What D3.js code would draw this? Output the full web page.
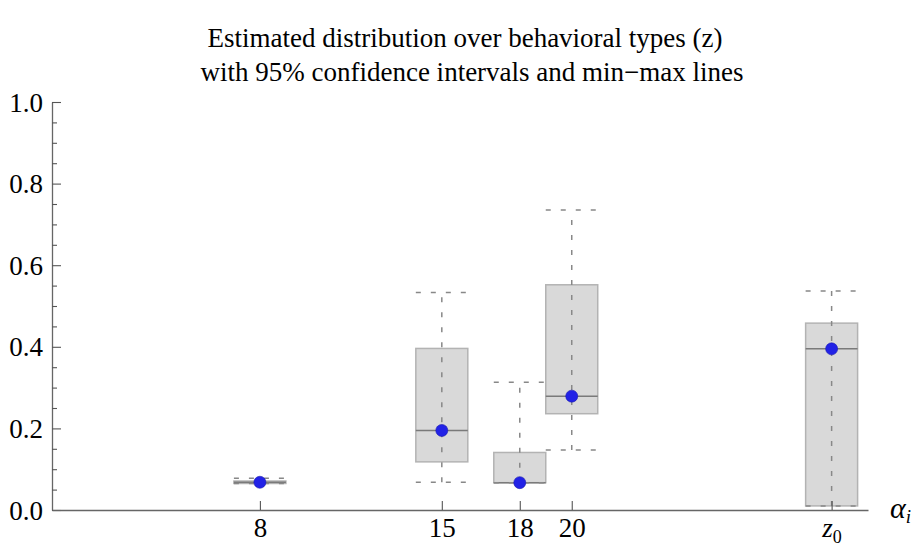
<!DOCTYPE html>
<html>
<head>
<meta charset="utf-8">
<script src="https://cdn.jsdelivr.net/npm/d3@7"></script>
<style>
  html, body { margin: 0; padding: 0; background: #fff; }
  svg { display: block; }
</style>
</head>
<body>
<svg id="chart" width="916" height="548"></svg>
<script>
// ---- data ----
const categories = ["8", "15", "18", "20", "z0"];
const positions  = [8, 15, 18, 20, 30];
const minVals    = [0.065, 0.068, 0.067, 0.147, 0.010];
const lowerCI    = [0.065, 0.118, 0.067, 0.236, 0.010];
const medians    = [0.068, 0.195, 0.067, 0.279, 0.395];
const upperCI    = [0.071, 0.396, 0.141, 0.552, 0.458];
const maxVals    = [0.078, 0.533, 0.313, 0.735, 0.537];
const estimates  = [0.068, 0.195, 0.067, 0.279, 0.395];
const yTickValues = [0, 0.2, 0.4, 0.6, 0.8, 1.0];
const titleLines = ["Estimated distribution over behavioral types (z)",
                    "with 95% confidence intervals and min\u2212max lines"];

const FONT = "Liberation Serif";
const FS = 27;
const svg = d3.select("#chart");
const x = d3.scaleLinear().domain([0, 31.4]).range([52, 868]);
const y = d3.scaleLinear().domain([0, 1]).range([510, 102]);
const halfW = 1; // box half width in x units

const data = categories.map((c, i) => ({
  c, p: positions[i], min: minVals[i], lo: lowerCI[i], med: medians[i],
  hi: upperCI[i], max: maxVals[i], est: estimates[i]
}));

// titles
svg.append("text").attr("x", 465).attr("y", 47).attr("text-anchor", "middle")
  .attr("font-family", FONT).attr("font-size", FS).attr("fill", "#000").text(titleLines[0]);
svg.append("text").attr("x", 472).attr("y", 81).attr("text-anchor", "middle")
  .attr("font-family", FONT).attr("font-size", FS).attr("fill", "#000").text(titleLines[1]);

// boxes
const g = svg.append("g");
g.selectAll("rect.box").data(data).enter().append("rect")
  .attr("class", "box")
  .attr("x", d => x(d.p - halfW))
  .attr("width", d => x(d.p + halfW) - x(d.p - halfW))
  .attr("y", d => y(d.hi))
  .attr("height", d => Math.max(y(d.lo) - y(d.hi), 1))
  .attr("fill", "#d9d9d9").attr("stroke", "#b3b3b3").attr("stroke-width", 1.5);

// medians
g.selectAll("line.med").data(data).enter().append("line")
  .attr("x1", d => x(d.p - halfW)).attr("x2", d => x(d.p + halfW))
  .attr("y1", d => y(d.med)).attr("y2", d => y(d.med))
  .attr("stroke", "#7a7a7a").attr("stroke-width", 1.5);

// dashed min-max lines
const dash = "5,10";
g.selectAll("line.vw").data(data).enter().append("line")
  .attr("x1", d => x(d.p)).attr("x2", d => x(d.p))
  .attr("y1", d => y(d.min)).attr("y2", d => y(d.max))
  .attr("stroke", "#888").attr("stroke-width", 1.5).attr("stroke-dasharray", dash);
["min", "max"].forEach(k => {
  g.selectAll("line.cap" + k).data(data).enter().append("line")
    .attr("x1", d => x(d.p - halfW)).attr("x2", d => x(d.p + halfW))
    .attr("y1", d => y(d[k])).attr("y2", d => y(d[k]))
    .attr("stroke", "#888").attr("stroke-width", 1.5).attr("stroke-dasharray", dash);
});

// points
g.selectAll("circle").data(data).enter().append("circle")
  .attr("cx", d => x(d.p)).attr("cy", d => y(d.est)).attr("r", 6)
  .attr("fill", "#2222e6").attr("stroke", "#1a1ab0").attr("stroke-width", 0.6);

// y axis
const yAxis = svg.append("g").attr("transform", `translate(${x(0)},0)`)
  .call(d3.axisLeft(y).tickValues(yTickValues).tickFormat(d3.format(".1f"))
    .tickSize(-9).tickSizeOuter(0).tickPadding(9));
const yMinor = svg.append("g").attr("transform", `translate(${x(0)},0)`)
  .call(d3.axisLeft(y).tickValues(d3.range(0, 1.0001, 0.05).filter(v => Math.abs(v * 5 - Math.round(v * 5)) > 1e-6))
    .tickFormat("").tickSize(-5).tickSizeOuter(0));
yMinor.select(".domain").remove();

// x axis
const xAxis = svg.append("g").attr("transform", `translate(0,${y(0)})`)
  .call(d3.axisBottom(x).tickValues(positions).tickFormat((d, i) => categories[i])
    .tickSize(-9).tickSizeOuter(0).tickPadding(8));

[yAxis, yMinor, xAxis].forEach(a => {
  a.attr("font-family", FONT).attr("font-size", FS);
  a.selectAll("path.domain").attr("stroke", "#666").attr("stroke-width", 1.3);
  a.selectAll(".tick line").attr("stroke", "#555").attr("stroke-width", 1.1);
  a.selectAll("text").attr("font-family", FONT).attr("font-size", FS).attr("fill", "#000");
});
yAxis.selectAll(".tick text").attr("dy", "0.34em");

// z0 label with subscript
xAxis.selectAll(".tick text").filter((d, i) => categories[i] === "z0")
  .text(null)
  .call(t => {
    t.append("tspan").attr("font-style", "italic").text("z");
    t.append("tspan").attr("font-size", 18).attr("dy", "0.3em").text("0");
  });

// axis label alpha_i
const lab = svg.append("text").attr("x", 890).attr("y", 518).attr("font-size", 30)
  .attr("font-family", FONT).attr("font-style", "italic").attr("fill", "#000");
lab.append("tspan").text("\u03b1");
lab.append("tspan").attr("font-size", 19).attr("dy", 5).text("i");
</script>
</body>
</html>
